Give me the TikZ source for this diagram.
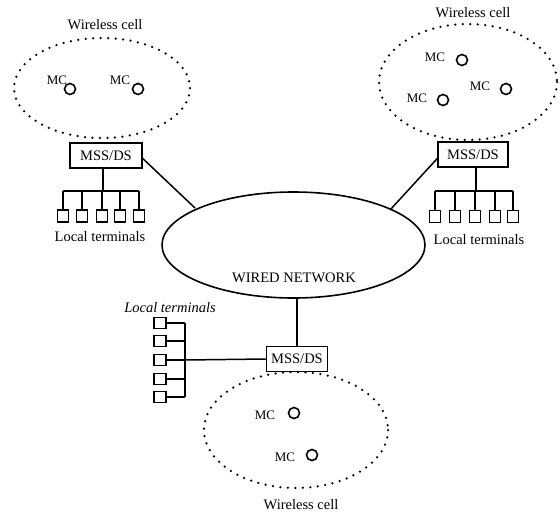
\documentclass[tikz,border=0pt]{standalone}
\usepackage{fontspec}
\setmainfont{Liberation Serif}
\usetikzlibrary{shapes.geometric}
\begin{document}
\begin{tikzpicture}[x=1pt,y=-1pt,
  cell/.style={draw,line width=2.5pt,line cap=round,dash pattern=on 0pt off 7.5pt},
  wired/.style={draw,line width=1.6pt},
  station/.style={draw,line width=1.5pt,minimum width=#1,minimum height=25pt,inner sep=0pt,font=\fontsize{14.5}{16}\selectfont},
  station/.default=72pt,
  term/.style={draw,line width=1.5pt,minimum width=11pt,minimum height=12pt,inner sep=0pt},
  mc/.style={draw,circle,line width=1.6pt,minimum size=11pt,inner sep=0pt},
  mclab/.style={font=\fontsize{13}{14}\selectfont,inner sep=0pt},
  lab/.style={font=\fontsize{14.5}{16}\selectfont,inner sep=0pt},
  link/.style={line width=1.5pt}]
\useasboundingbox (0,0) rectangle (560,512);

% wired backbone
\draw[wired] (293.5,245) ellipse [x radius=131.5, y radius=53];
\coordinate (wTL) at (195,208);
\coordinate (wTR) at (390,210);
\coordinate (wB) at (297,298);
\node[lab] (wn) at (294,278) {WIRED NETWORK};

% ---------- top-left cell ----------
\draw[cell] (102,88) ellipse [x radius=88, y radius=50];
\node[lab] (wc1) at (105,25) {Wireless cell};
\node[mclab] (mcl1) at (57,80) {MC};
\node[mc] (mc1) at (70,89) {};
\node[mclab] (mcl2) at (120,80) {MC};
\node[mc] (mc2) at (138,89) {};
\node[station] (s1) at (106,155.5) {MSS/DS};
\draw[link] (s1.east) ++(0,3) coordinate (s1e) -- (wTL);
\coordinate (b1) at (103,191);
\draw[link] (s1.south -| b1) -- (b1);
\foreach \i/\x in {1/63,2/82,3/102,4/120,5/139}{
  \node[term] (t1\i) at (\x,216) {};
  \draw[link] (t1\i.north) -- (\x,191);
}
\draw[link] (t11.north |- b1) -- (t15.north |- b1);
\node[lab] (lt1) at (100,237) {Local terminals};

% ---------- top-right cell ----------
\draw[cell] (468,82) ellipse [x radius=89, y radius=58];
\node[lab] (wc2) at (473,13) {Wireless cell};
\node[mclab] (mcl3) at (435,57) {MC};
\node[mc] (mc3) at (462,60) {};
\node[mclab] (mcl4) at (480,86) {MC};
\node[mc] (mc4) at (506,89) {};
\node[mclab] (mcl5) at (417,98) {MC};
\node[mc] (mc5) at (443,100) {};
\node[station=70pt] (s2) at (473,154.5) {MSS/DS};
\draw[link] (s2.west) ++(0,4) -- (wTR);
\coordinate (b2) at (476,191);
\draw[link] (s2.south -| b2) -- (b2);
\foreach \i/\x in {1/435,2/455,3/475,4/495,5/513}{
  \node[term] (t2\i) at (\x,216.5) {};
  \draw[link] (t2\i.north) -- (\x,191);
}
\draw[link] (t21.north |- b2) -- (t25.north |- b2);
\node[lab] (lt2) at (479,240) {Local terminals};

% ---------- bottom cell ----------
\draw[cell] (296,430) ellipse [x radius=92, y radius=58];
\node[lab] (wc3) at (301,505) {Wireless cell};
\node[mclab] (mcl6) at (265,415) {MC};
\node[mc] (mc6) at (294,413) {};
\node[mclab] (mcl7) at (285,457) {MC};
\node[mc] (mc7) at (312,455) {};
\node[station=61pt] (s3) at (297,359) {MSS/DS};
\draw[link] (wB) -- (s3.north);
\coordinate (b3) at (185,360);
\draw[link] (s3.west) -- (b3);
\foreach \i/\y in {1/323,2/341,3/360,4/379,5/397}{
  \node[term,minimum width=12pt,minimum height=11pt] (t3\i) at (160,\y) {};
  \draw[link] (t3\i.east) -- (185,\y);
}
\draw[link] (t31.east -| b3) -- (t35.east -| b3);
\node[lab,font=\fontsize{14.5}{16}\selectfont\itshape] (lt3) at (170,308) {Local terminals};
\end{tikzpicture}
\end{document}
